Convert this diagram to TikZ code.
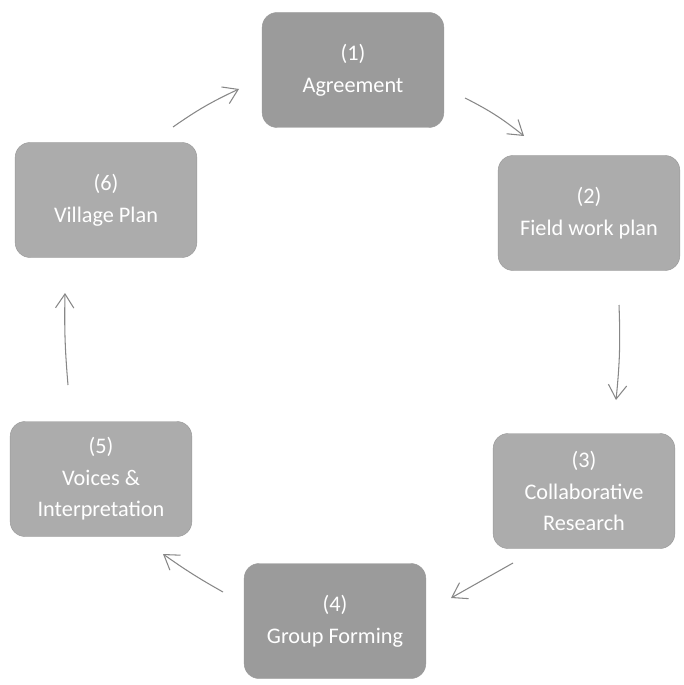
\documentclass[tikz,border=0pt]{standalone}
\usepackage{fontspec}
\setmainfont{Carlito}
\usetikzlibrary{arrows.meta}
\definecolor{boxdark}{RGB}{155,155,155}
\definecolor{boxlight}{RGB}{172,172,172}
\definecolor{pencil}{RGB}{135,135,135}
\tikzset{
  >={Straight Barb[length=4.2mm,width=5.5mm]},
  stage/.style={draw=gray!80, fill=boxlight, rounded corners=4.5mm,
                minimum width=5.45cm, minimum height=3.45cm, align=center,
                text=white, font=\fontsize{19}{27}\selectfont},
  dark/.style ={fill=boxdark},
  flow/.style ={->, draw=pencil, line width=0.9pt}
}
\begin{document}
\begin{tikzpicture}[x=0.03cm, y=-0.03cm]
\useasboundingbox (0,0) rectangle (683,685);
% stages of the cycle
\node[stage,dark] (agree)  at (353,70)  {(1)\\Agreement};
\node[stage]      (field)  at (589,213) {(2)\\Field work plan};
\node[stage]      (collab) at (584,491) {(3)\\Collaborative\\Research};
\node[stage,dark] (group)  at (335,621) {(4)\\Group Forming};
\node[stage]      (voices) at (101,479) {(5)\\Voices \&\\Interpretation};
\node[stage]      (plan)   at (106,200) {(6)\\Village Plan};
% arrow ends
\coordinate (a12) at (465,98);  \coordinate (b12) at (524,136);
\coordinate (a23) at (619,305); \coordinate (b23) at (616,400);
\coordinate (a34) at (513,563); \coordinate (b34) at (451,598);
\coordinate (a45) at (223,592); \coordinate (b45) at (163,554);
\coordinate (a56) at (68,385);  \coordinate (b56) at (65,293);
\coordinate (a61) at (173,127); \coordinate (b61) at (239,89);
\draw[flow] (a12) to[bend left=6] (b12);
\draw[flow] (a23) to[bend left=4] (b23);
\draw[flow] (a34) -- (b34);
\draw[flow] (a45) to[bend left=3] (b45);
\draw[flow] (a56) to[bend left=3] (b56);
\draw[flow] (a61) to[bend left=5] (b61);
\end{tikzpicture}
\end{document}
